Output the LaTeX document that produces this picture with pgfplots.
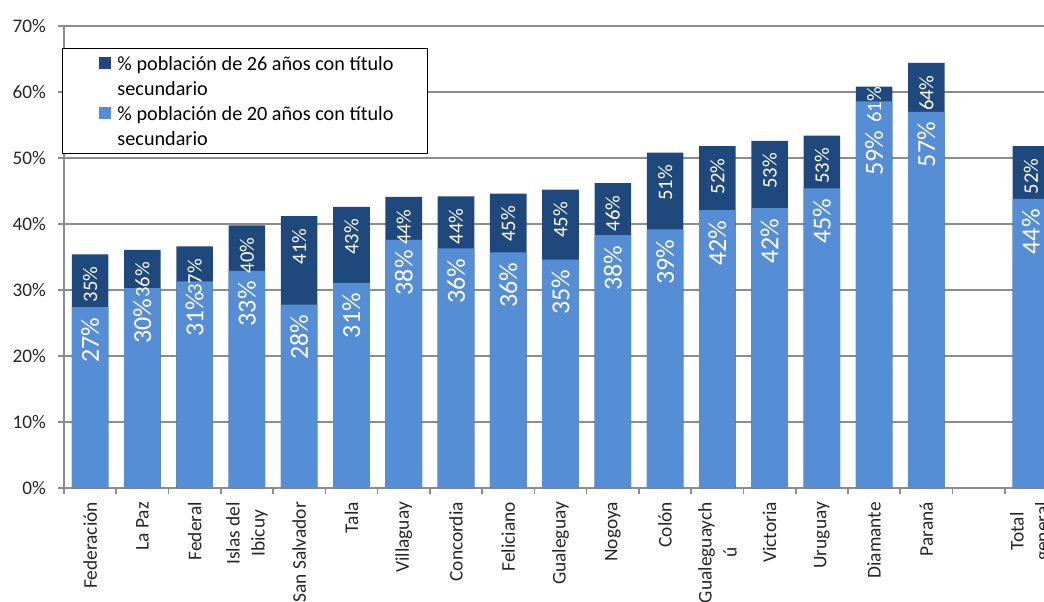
\documentclass[border=0pt]{standalone}
\usepackage{fontspec}
\setmainfont{Carlito}
\usepackage{pgfplots}
\pgfplotsset{compat=1.18}
\usepackage{pgfplotstable}

\definecolor{oscuro}{RGB}{31,73,125}
\definecolor{claro}{RGB}{85,142,213}
\definecolor{grilla}{RGB}{140,140,140}

% x: posicion de la categoria, v26 / v20 en %
% s26 / s20: separacion (pt) entre el tope de la barra y la etiqueta
\pgfplotstableread{
x  v26  v20  s26 s20
0  35.4 27.4 6   5
1  36.1 30.3 6   5
2  36.6 31.3 6   5
3  39.8 32.9 6   5
4  41.2 27.8 6   5
5  42.6 31.1 6   5
6  44.1 37.6 6   5
7  44.2 36.3 6   5
8  44.6 35.7 6   5
9  45.2 34.6 6   5
10 46.2 38.3 6   5
11 50.8 39.2 6   5
12 51.8 42.1 6   5
13 52.6 42.4 6   5
14 53.4 45.4 6   5
15 60.8 58.6 0   14.5
16 64.4 57.0 6   5
18 51.8 43.8 6   5
}\datos

\begin{document}
\begin{tikzpicture}
\begin{axis}[
    at={(0pt,0pt)}, anchor=south west,
    scale only axis,
    width=490pt, height=231pt,
    xmin=-0.5, xmax=18.25,
    ymin=0, ymax=70,
    ybar, bar width=0.7, bar shift=0pt,
    axis x line*=bottom, axis y line*=left,
    axis line style={grilla, line width=0.8pt},
    tick align=outside,
    ytick={0,10,...,70},
    yticklabel={\pgfmathprintnumber{\tick}\%},
    ymajorgrids,
    grid style={grilla, line width=0.8pt},
    major tick length=3pt, minor tick length=3pt,
    every tick/.style={grilla, line width=0.8pt},
    xtick={0,...,18},
    major x tick style={draw=none},
    minor xtick={-0.5,0.5,...,17.5},
    xticklabels={Federación, La Paz, Federal, {Islas del\\Ibicuy}, San Salvador,
        Tala, Villaguay, Concordia, Feliciano, Gualeguay, Nogoya, Colón,
        {Gualeguaych\\ú}, Victoria, Uruguay, Diamante, Paraná, {}, {Total\\general}},
    /pgf/number format/assume math mode=true,
    yticklabel style={xshift=-2.5pt, font=\fontsize{9.6}{11}\selectfont, text=black!85},
    xticklabel style={yshift=-0.5pt, rotate=90, anchor=east, align=center,
        font=\fontsize{9.7}{12.5}\selectfont, text=black!85},
    legend cell align=left,
    legend style={at={(axis description cs:0,1)}, anchor=north west,
        xshift=-1pt, yshift=-11pt, draw=black, line width=0.5pt, fill=white,
        inner xsep=0pt, inner ysep=2.8pt, row sep=3.5pt,
        nodes={inner sep=1pt, text depth=},
        font=\fontsize{10.1}{12.5}\selectfont},
    legend image code/.code={
        \fill[#1] (0pt,3.25pt) rectangle (6pt,9.25pt);
        \path (-18.5pt,-9.25pt) (8pt,9.25pt);
    },
]
\addplot[fill=oscuro, draw=none] table[x=x, y=v26] {\datos};
\addlegendentry{\parbox[t]{154pt}{\% población de 26 años con título\newline secundario}}

\addplot[fill=claro, draw=none, point meta=y,
    visualization depends on={\thisrow{s20} \as \sepveinte},
    nodes near coords={\pgfmathprintnumber[fixed,precision=0]{\pgfplotspointmeta}\%},
    every node near coord/.append style={rotate=90, anchor=east, text=white,
        inner xsep=\sepveinte pt, inner ysep=0pt, font=\fontsize{13}{13}\selectfont}]
    table[x=x, y=v20] {\datos};
\addlegendentry{\parbox[t]{154pt}{\% población de 20 años con título\newline secundario}}

\addplot[draw=none, fill=none, forget plot, point meta=y,
    visualization depends on={\thisrow{s26} \as \sepveintiseis},
    nodes near coords={\pgfmathprintnumber[fixed,precision=0]{\pgfplotspointmeta}\%},
    every node near coord/.append style={rotate=90, anchor=east, text=white,
        inner xsep=\sepveintiseis pt, inner ysep=0pt, font=\fontsize{10.3}{10.3}\selectfont}]
    table[x=x, y=v26] {\datos};
\end{axis}
\pgfresetboundingbox
\path[use as bounding box] (-32pt,-56.5pt) rectangle (490pt,244pt);
\end{tikzpicture}
\end{document}
